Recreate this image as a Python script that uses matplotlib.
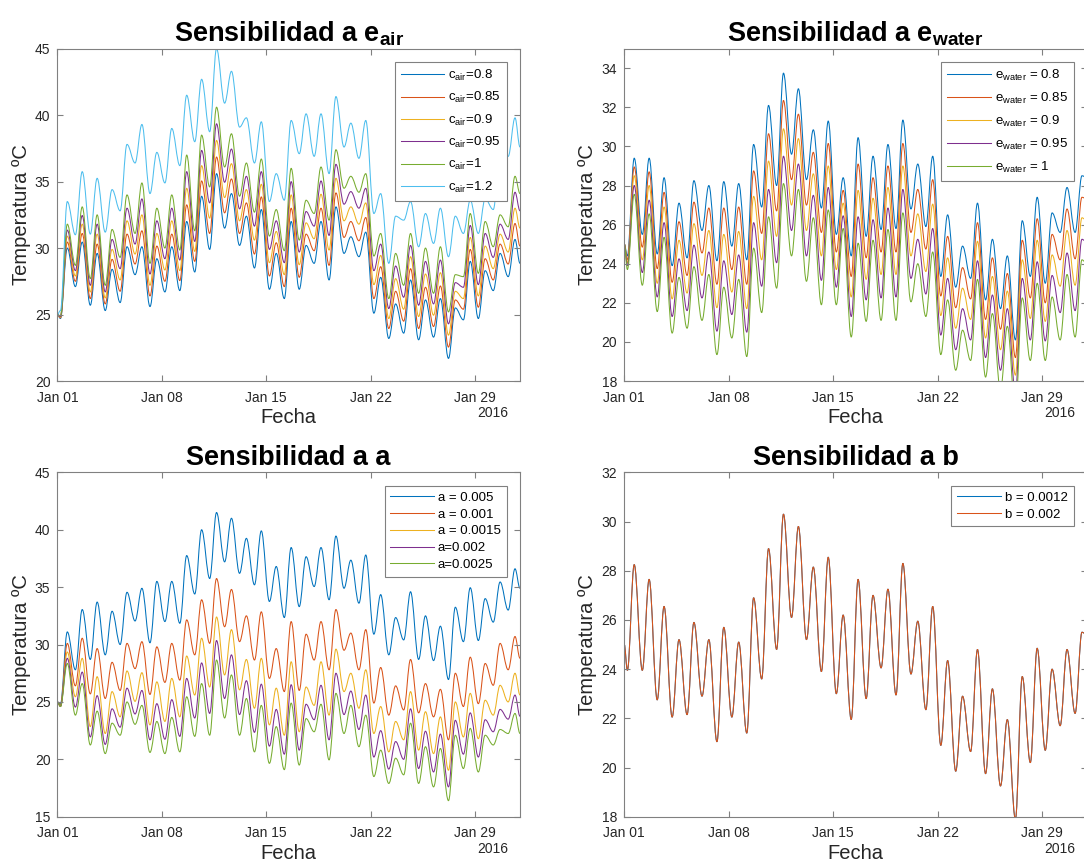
import datetime as dt
import matplotlib
matplotlib.use("Agg")
import matplotlib.pyplot as plt
import matplotlib.dates as mdates
from matplotlib.path import Path
from matplotlib.patches import PathPatch
from matplotlib.lines import Line2D

plt.rcParams['font.family'] = ['Liberation Sans', 'DejaVu Sans']
plt.rcParams['mathtext.fontset'] = 'custom'
plt.rcParams['mathtext.rm'] = 'Liberation Sans'
plt.rcParams['mathtext.it'] = 'Liberation Sans:italic'
plt.rcParams['mathtext.bf'] = 'Liberation Sans:bold'

# colores por defecto de MATLAB
azul, rojo, amarillo, morado, verde, celeste = '#0072BD', '#D95319', '#EDB120', '#7E2F8E', '#77AC30', '#4DBEEE'

# todas las series empiezan en 25 ºC el 1 de enero a las 00:00
temp_inicial = 25.0
# cada dia: minimo (madrugada) y maximo (tarde), del 1 al 31 de enero

# ---- Sensibilidad a e_air ----
cair_080_min = [24.7, 27.1, 25.7, 25.3, 25.9, 28.0, 25.6, 26.7, 26.8, 28.2, 29.9, 31.5, 30.2, 28.5, 26.9, 26.2, 26.9, 28.85, 27.6, 29.6, 29.35, 25.1, 23.2, 23.6, 23.1, 23.3, 21.7, 24.6, 24.7, 26.8, 27.85]
cair_080_max = [30.0, 30.45, 29.6, 28.4, 30.1, 30.1, 29.2, 30.1, 32.0, 33.9, 35.6, 34.1, 32.4, 32.9, 29.6, 32.0, 30.2, 32.0, 33.1, 30.85, 31.2, 27.8, 25.8, 27.6, 26.1, 26.2, 25.5, 29.0, 28.3, 29.6, 30.65]
cair_085_min = [24.75, 27.5, 26.2, 25.8, 26.75, 28.8, 26.4, 27.5, 27.55, 29.0, 31.1, 32.65, 31.1, 29.55, 27.9, 27.1, 27.8, 29.8, 28.7, 30.8, 30.55, 26.2, 23.95, 24.5, 23.95, 24.1, 22.55, 25.4, 25.55, 27.6, 28.8]
cair_085_max = [30.45, 31.1, 30.3, 29.15, 31.05, 31.3, 30.15, 31.05, 33.25, 35.05, 36.85, 35.2, 33.4, 33.85, 30.4, 33.0, 31.05, 33.0, 34.15, 32.0, 32.3, 28.6, 26.75, 28.45, 27.05, 27.15, 26.1, 29.9, 29.2, 30.3, 31.85]
cair_090_min = [24.8, 27.9, 26.7, 26.25, 27.6, 29.55, 27.2, 28.35, 28.3, 29.75, 32.25, 33.8, 32.05, 30.6, 28.9, 28.0, 28.75, 30.7, 29.85, 32.05, 31.8, 27.25, 24.7, 25.4, 24.85, 24.95, 23.45, 26.2, 26.4, 28.45, 29.7]
cair_090_max = [30.9, 31.8, 31.05, 29.9, 32.05, 32.5, 31.1, 32.05, 34.5, 36.2, 38.1, 36.35, 34.4, 34.8, 31.25, 34.0, 31.9, 34.05, 35.25, 33.1, 33.4, 29.45, 27.7, 29.35, 28.05, 28.15, 26.75, 30.8, 30.15, 31.05, 33.0]
cair_095_min = [24.85, 28.3, 27.2, 26.7, 28.45, 30.3, 28.05, 29.2, 29.1, 30.5, 33.4, 34.95, 32.95, 31.65, 29.9, 28.9, 29.7, 31.65, 30.95, 33.3, 33.0, 28.3, 25.45, 26.3, 25.7, 25.8, 24.3, 27.05, 27.25, 29.3, 30.65]
cair_095_max = [31.35, 32.45, 31.8, 30.65, 33.0, 33.7, 32.05, 33.0, 35.75, 37.35, 39.35, 37.45, 35.4, 35.75, 32.05, 35.0, 32.75, 35.05, 36.3, 34.25, 34.5, 30.3, 28.65, 30.2, 29.0, 29.1, 27.4, 31.7, 31.1, 31.8, 34.2]
cair_100_min = [24.9, 28.7, 27.7, 27.2, 29.3, 31.1, 28.85, 30.0, 29.85, 31.3, 34.6, 36.1, 33.9, 32.7, 30.9, 29.8, 30.6, 32.6, 32.1, 34.5, 34.2, 29.4, 26.2, 27.2, 26.6, 26.6, 25.2, 27.85, 28.1, 30.1, 31.6]
cair_100_max = [31.8, 33.1, 32.5, 31.4, 34.0, 34.9, 33.0, 34.0, 37.0, 38.5, 40.6, 38.6, 36.4, 36.7, 32.9, 36.0, 33.6, 36.1, 37.4, 35.4, 35.6, 31.1, 29.6, 31.1, 30.0, 30.1, 28.0, 32.6, 32.0, 32.5, 35.4]
cair_120_min = [25.3, 31.0, 31.05, 31.2, 32.8, 36.4, 34.1, 34.9, 36.2, 38.0, 38.75, 40.9, 39.1, 36.4, 33.5, 33.6, 37.1, 36.9, 35.6, 37.6, 36.75, 32.6, 28.85, 32.1, 30.1, 30.35, 29.35, 31.1, 31.1, 32.9, 36.9]
cair_120_max = [33.5, 35.75, 35.25, 34.4, 37.8, 39.3, 37.2, 39.0, 41.5, 42.7, 45.0, 43.3, 39.8, 39.5, 35.6, 39.6, 40.1, 40.1, 41.4, 39.4, 39.6, 34.1, 32.4, 33.5, 32.6, 33.0, 32.4, 33.6, 33.7, 37.1, 39.8]
cair_final = [28.85, 30.15, 31.5, 32.8, 34.1, 37.6]
cair_labels = ['c$_{\\mathrm{air}}$=0.8', 'c$_{\\mathrm{air}}$=0.85', 'c$_{\\mathrm{air}}$=0.9',
               'c$_{\\mathrm{air}}$=0.95', 'c$_{\\mathrm{air}}$=1', 'c$_{\\mathrm{air}}$=1.2']

# ---- Sensibilidad a e_water ----
ew_080_min = [24.4, 25.5, 24.5, 23.9, 24.3, 25.7, 24.15, 24.9, 24.2, 26.9, 28.0, 29.6, 28.3, 26.85, 25.5, 24.4, 25.4, 25.75, 25.8, 26.8, 25.9, 23.35, 22.8, 23.25, 22.15, 21.7, 20.1, 23.35, 23.0, 25.6, 25.6]
ew_080_max = [29.4, 29.4, 28.4, 27.1, 28.25, 28.0, 28.2, 28.1, 30.1, 32.1, 33.75, 32.95, 30.85, 31.3, 28.4, 30.45, 29.5, 30.1, 31.35, 29.1, 29.5, 26.5, 24.9, 27.1, 25.25, 24.4, 26.2, 27.4, 26.6, 27.9, 28.5]
ew_085_min = [24.2, 24.85, 23.75, 23.05, 23.4, 24.55, 22.95, 23.7, 22.95, 25.55, 26.7, 28.3, 27.0, 25.6, 24.6, 23.35, 24.3, 24.6, 24.6, 25.6, 24.75, 22.35, 21.75, 22.2, 21.15, 20.65, 19.2, 22.25, 22.0, 24.2, 24.25]
ew_085_max = [28.95, 28.7, 27.65, 26.15, 27.15, 26.85, 26.85, 26.9, 28.75, 30.65, 32.35, 31.65, 29.7, 30.15, 27.75, 29.1, 28.4, 29.0, 30.15, 27.8, 28.3, 25.4, 23.8, 26.1, 24.3, 23.5, 25.2, 26.3, 25.5, 26.8, 27.4]
ew_090_min = [24.05, 24.2, 23.0, 22.2, 22.5, 23.4, 21.75, 22.55, 21.7, 24.2, 25.4, 27.0, 25.7, 24.4, 23.7, 22.3, 23.2, 23.45, 23.45, 24.4, 23.6, 21.35, 20.7, 21.15, 20.2, 19.6, 18.3, 21.2, 21.05, 22.85, 22.9]
ew_090_max = [28.5, 28.0, 26.9, 25.2, 26.05, 25.7, 25.5, 25.65, 27.45, 29.25, 30.9, 30.4, 28.6, 29.0, 27.1, 27.75, 27.35, 27.9, 29.0, 26.55, 27.05, 24.3, 22.75, 25.15, 23.35, 22.6, 24.2, 25.2, 24.45, 25.7, 26.35]
ew_095_min = [23.9, 23.55, 22.3, 21.3, 21.6, 22.25, 20.55, 21.4, 20.5, 22.85, 24.05, 25.7, 24.4, 23.15, 22.8, 21.3, 22.15, 22.25, 22.3, 23.25, 22.45, 20.35, 19.6, 20.1, 19.2, 18.55, 17.4, 20.1, 20.05, 21.5, 21.6]
ew_095_max = [28.0, 27.25, 26.1, 24.25, 24.95, 24.6, 24.15, 24.45, 26.1, 27.8, 29.5, 29.1, 27.5, 27.9, 26.45, 26.4, 26.25, 26.85, 27.8, 25.25, 25.8, 23.25, 21.7, 24.15, 22.4, 21.7, 23.25, 24.1, 23.4, 24.55, 25.25]
ew_100_min = [23.7, 22.9, 21.55, 20.45, 20.7, 21.1, 19.35, 20.2, 19.25, 21.5, 22.75, 24.4, 23.1, 21.9, 21.9, 20.25, 21.05, 21.1, 21.1, 22.05, 21.3, 19.35, 18.55, 19.05, 18.2, 17.5, 16.5, 19.05, 19.05, 20.1, 20.25]
ew_100_max = [27.55, 26.55, 25.35, 23.3, 23.85, 23.45, 22.8, 23.2, 24.8, 26.4, 28.1, 27.8, 26.35, 26.75, 25.8, 25.05, 25.2, 25.75, 26.6, 24.0, 24.6, 22.15, 20.6, 23.2, 21.45, 20.8, 22.25, 23.0, 22.3, 23.45, 24.2]
ew_final = [28.4, 27.3, 26.2, 25.1, 24.0]
ew_labels = ['e$_{\\mathrm{water}}$ = 0.8', 'e$_{\\mathrm{water}}$ = 0.85', 'e$_{\\mathrm{water}}$ = 0.9',
             'e$_{\\mathrm{water}}$ = 0.95', 'e$_{\\mathrm{water}}$ = 1']

# ---- Sensibilidad a a ----
a_0005_min = [24.8, 27.8, 28.7, 29.1, 30.0, 32.05, 30.15, 32.0, 31.85, 34.4, 35.75, 37.2, 36.2, 35.2, 33.75, 32.35, 33.3, 35.05, 33.9, 34.9, 33.6, 30.9, 29.1, 30.4, 28.7, 28.6, 26.95, 30.25, 30.35, 31.95, 33.0]
a_0005_max = [31.1, 33.05, 33.7, 32.9, 34.55, 34.9, 35.5, 35.5, 37.75, 40.0, 41.5, 41.0, 39.25, 39.9, 36.8, 38.45, 37.65, 38.45, 39.45, 37.35, 37.8, 34.35, 32.35, 34.6, 32.5, 31.6, 33.25, 34.95, 34.0, 35.45, 36.6]
a_0010_min = [24.7, 26.4, 25.7, 25.3, 26.0, 27.9, 25.65, 26.7, 26.9, 29.1, 30.1, 31.55, 30.25, 28.65, 27.05, 25.9, 26.0, 28.65, 27.8, 29.5, 27.8, 24.9, 23.85, 24.3, 24.05, 23.7, 21.7, 24.6, 24.85, 26.45, 27.8]
a_0010_max = [30.1, 30.55, 29.65, 28.45, 30.1, 30.25, 29.8, 30.1, 32.15, 33.9, 35.75, 34.8, 32.5, 32.85, 29.65, 32.0, 30.9, 32.0, 33.05, 31.0, 31.3, 28.0, 26.4, 28.7, 26.6, 26.1, 27.5, 28.9, 28.35, 30.1, 30.7]
a_0015_min = [24.6, 25.45, 22.85, 22.25, 23.7, 25.05, 23.0, 23.3, 23.7, 25.6, 26.3, 27.35, 26.05, 24.45, 23.0, 22.1, 22.4, 24.7, 23.85, 25.9, 24.45, 22.25, 20.65, 21.7, 20.8, 20.5, 19.05, 21.95, 21.8, 23.85, 25.0]
a_0015_max = [29.35, 28.8, 27.2, 25.9, 27.7, 27.55, 26.75, 27.05, 29.0, 30.55, 32.4, 31.3, 28.7, 28.8, 26.2, 28.5, 26.3, 28.5, 29.6, 27.5, 27.8, 24.6, 23.3, 25.9, 24.15, 23.7, 25.0, 25.75, 25.15, 26.45, 27.5]
a_0020_min = [24.6, 24.55, 21.95, 21.3, 22.8, 23.95, 21.7, 21.75, 22.0, 23.6, 24.0, 25.3, 23.9, 22.35, 21.15, 20.45, 20.8, 23.45, 21.7, 23.9, 22.6, 20.2, 19.15, 20.0, 19.2, 18.9, 17.6, 20.45, 20.2, 22.4, 23.5]
a_0020_max = [28.8, 27.6, 25.55, 24.4, 26.2, 26.0, 24.85, 25.2, 27.05, 28.4, 30.35, 29.1, 26.85, 26.55, 24.35, 26.5, 24.8, 26.45, 27.5, 25.95, 25.6, 22.5, 21.55, 24.4, 22.45, 22.2, 23.4, 24.05, 23.45, 24.35, 25.6]
a_0025_min = [24.6, 23.85, 21.25, 20.5, 22.1, 23.05, 20.6, 20.5, 20.65, 22.0, 22.1, 23.6, 22.1, 20.65, 19.65, 19.1, 19.5, 22.4, 19.95, 22.25, 21.1, 18.5, 17.9, 18.65, 17.9, 17.6, 16.4, 19.2, 18.9, 21.25, 22.25]
a_0025_max = [28.35, 26.6, 24.2, 23.15, 25.0, 24.7, 23.3, 23.65, 25.45, 26.6, 28.65, 27.35, 25.3, 24.7, 22.85, 24.9, 23.55, 24.8, 25.75, 24.7, 23.85, 20.8, 20.1, 23.15, 21.1, 20.95, 22.1, 22.7, 22.1, 22.6, 24.0]
a_final = [34.9, 28.8, 25.6, 23.75, 22.25]
a_labels = ['a = 0.005', 'a = 0.001', 'a = 0.0015', 'a=0.002', 'a=0.0025']

# ---- Sensibilidad a b ---- (las dos curvas coinciden)
b_0020_min = [23.95, 23.95, 22.75, 22.05, 22.15, 22.9, 21.05, 22.05, 21.4, 23.6, 24.8, 26.1, 25.2, 23.9, 23.0, 21.95, 22.8, 24.05, 22.95, 23.8, 22.35, 20.9, 19.85, 20.65, 19.75, 19.25, 17.9, 20.2, 20.7, 21.7, 22.2]
b_0020_max = [28.25, 27.65, 26.55, 25.2, 25.9, 25.2, 25.7, 25.1, 26.9, 28.9, 30.3, 29.8, 28.15, 28.55, 26.2, 27.65, 27.0, 27.25, 28.3, 25.95, 26.55, 24.35, 22.9, 24.8, 23.2, 21.95, 23.7, 24.85, 24.0, 24.8, 25.5]
b_0012_min = b_0020_min
b_0012_max = b_0020_max
b_final = [25.4, 25.4]
b_labels = ['b = 0.0012', 'b = 0.002']

inicio = dt.datetime(2016, 1, 1)
fechas = [inicio]
for d in range(31):
    fechas.append(inicio + dt.timedelta(days=d, hours=5))
    fechas.append(inicio + dt.timedelta(days=d, hours=16))
fechas.append(inicio + dt.timedelta(days=31))
t = mdates.date2num(fechas)
ticks_x = mdates.date2num([dt.datetime(2016, 1, d) for d in (1, 8, 15, 22, 29)])

GRIS = '#808080'
TEXTO = '#262626'
LW = 0.75


def curva(ax, mins, maxs, final, color, lw):
    y = [temp_inicial]
    for lo, hi in zip(mins, maxs):
        y += [lo, hi]
    y.append(final)
    k = 0.3642
    verts = [(t[0], y[0])]
    codes = [Path.MOVETO]
    for i in range(len(t) - 1):
        dx = t[i + 1] - t[i]
        verts += [(t[i] + k * dx, y[i]), (t[i + 1] - k * dx, y[i + 1]), (t[i + 1], y[i + 1])]
        codes += [Path.CURVE4] * 3
    ax.add_patch(PathPatch(Path(verts, codes), fill=False, edgecolor=color, lw=lw))


def panel(pos, titulo, series, finales, etiquetas, colores, ylim, yticks, espacio):
    ax = fig.add_axes(pos)
    for (mins, maxs), fin, c in zip(series, finales, colores):
        curva(ax, mins, maxs, fin, c, LW)
    ax.set_xlim(t[0], t[-1])
    ax.set_ylim(*ylim)
    ax.set_yticks(yticks)
    ax.set_xticks(ticks_x)
    ax.xaxis.set_major_formatter(mdates.DateFormatter('%b %d'))
    ax.tick_params(direction='in', top=True, right=True, length=4, width=0.8,
                   color=GRIS, labelcolor=TEXTO, labelsize=10)
    ax.tick_params(axis='x', pad=7)
    ax.tick_params(axis='y', pad=5)
    for s in ax.spines.values():
        s.set_color(GRIS)
        s.set_linewidth(0.8)
    ax.set_title(titulo, fontsize=19.5, fontweight='bold', pad=5)
    ax.set_ylabel('Temperatura ºC', fontsize=14.5, color=TEXTO, labelpad=3)
    ax.set_xlabel('Fecha', fontsize=14.5, color=TEXTO, labelpad=2.5)
    ax.annotate('2016', xy=(0.974, 0), xycoords='axes fraction', xytext=(0, -23.3),
                textcoords='offset points', ha='right', va='center', fontsize=10, color=TEXTO)
    handles = [Line2D([], [], color=c, lw=LW) for c in colores]
    leg = ax.legend(handles, etiquetas, loc='upper right', fontsize=9.5, handlelength=3.3,
                    handletextpad=0.3, labelspacing=espacio, borderpad=0.45, borderaxespad=1.0,
                    fancybox=False, edgecolor=GRIS, framealpha=1)
    leg.get_frame().set_linewidth(0.8)
    return ax


fig = plt.figure(figsize=(10.84, 8.63), dpi=100)

panel([0.0529, 0.5585, 0.4268, 0.3851], 'Sensibilidad a e$_{\\mathbf{air}}$',
      [(cair_080_min, cair_080_max), (cair_085_min, cair_085_max), (cair_090_min, cair_090_max),
       (cair_095_min, cair_095_max), (cair_100_min, cair_100_max), (cair_120_min, cair_120_max)],
      cair_final, cair_labels, [azul, rojo, amarillo, morado, verde, celeste], (20, 45), range(20, 46, 5), 0.55)

panel([0.5759, 0.5585, 0.4268, 0.3851], 'Sensibilidad a e$_{\\mathbf{water}}$',
      [(ew_080_min, ew_080_max), (ew_085_min, ew_085_max), (ew_090_min, ew_090_max),
       (ew_095_min, ew_095_max), (ew_100_min, ew_100_max)],
      ew_final, ew_labels, [azul, rojo, amarillo, morado, verde], (18, 35), range(18, 35, 2), 0.6)

panel([0.0529, 0.0536, 0.4268, 0.3991], 'Sensibilidad a a',
      [(a_0005_min, a_0005_max), (a_0010_min, a_0010_max), (a_0015_min, a_0015_max),
       (a_0020_min, a_0020_max), (a_0025_min, a_0025_max)],
      a_final, a_labels, [azul, rojo, amarillo, morado, verde], (15, 45), range(15, 46, 5), 0.35)

panel([0.5759, 0.0536, 0.4268, 0.3991], 'Sensibilidad a b',
      [(b_0012_min, b_0012_max), (b_0020_min, b_0020_max)],
      b_final, b_labels, [azul, rojo], (18, 32), range(18, 33, 2), 0.35)

fig.savefig('out.png', dpi=100)
